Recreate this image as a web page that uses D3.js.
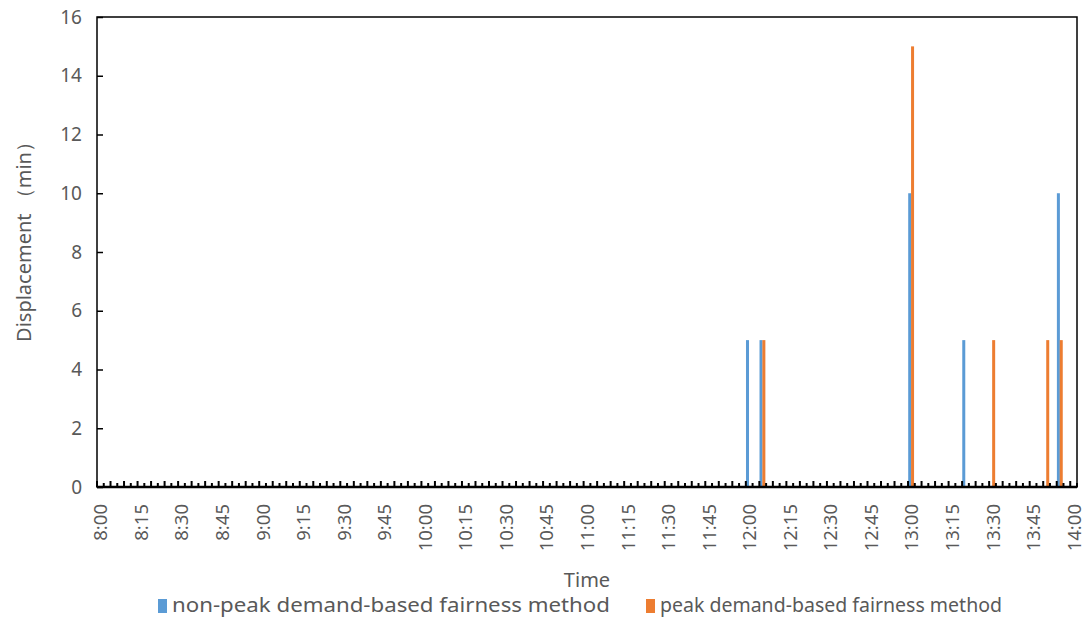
<!DOCTYPE html>
<html>
<head>
<meta charset="utf-8">
<title>Displacement</title>
<script src="https://d3js.org/d3.v7.min.js"></script>
<style>
  body { margin: 0; background: #fff; }
  text { font-family: "Noto Sans", sans-serif; fill: #595959; }
</style>
</head>
<body>
<svg id="chart" width="1087" height="628"></svg>
<script>
// time slots every 2.5 minutes from 8:00 to 14:00 (minutes after midnight)
var slots = d3.range(480, 840.01, 2.5);
var labelTimes = d3.range(480, 840.01, 15);

// non-zero displacements, everything else is 0
var nonPeakTimes = [720, 725, 780, 800, 835];
var nonPeakValues = [5, 5, 10, 5, 10];
var peakTimes = [725, 780, 810, 830, 835];
var peakValues = [5, 15, 5, 5, 5];

var seriesNames = ["non-peak demand-based fairness method", "peak demand-based fairness method"];
var colors = ["#5B9BD5", "#ED7D31"];
var yTicks = [0, 2, 4, 6, 8, 10, 12, 14, 16];

var margin = {top: 17, right: 10, bottom: 141, left: 97},
    width = 1077 - margin.left,
    height = 487 - margin.top;

var svg = d3.select("#chart");
var g = svg.append("g").attr("transform", "translate(" + margin.left + "," + margin.top + ")");

var x = d3.scaleBand().domain(slots).range([0, width]);
var x1 = d3.scaleBand().domain([0, 1]).range([-2, 4]).padding(0.1);
var y = d3.scaleLinear().domain([0, 16]).range([height, 0]);

function fmt(m) {
  return Math.floor(m / 60) + ":" + d3.format("02")(m % 60);
}

// bars
var series = [
  nonPeakTimes.map(function(t, i) { return {t: t, v: nonPeakValues[i], s: 0}; }),
  peakTimes.map(function(t, i) { return {t: t, v: peakValues[i], s: 1}; })
];
series.forEach(function(data, s) {
  g.selectAll(".bar" + s)
    .data(data)
    .enter().append("rect")
      .attr("x", function(d) { return x(d.t) + x.bandwidth() / 2 + x1(d.s) - 1.5; })
      .attr("width", 3)
      .attr("y", function(d) { return y(d.v); })
      .attr("height", function(d) { return height - y(d.v); })
      .attr("fill", colors[s]);
});

// frame
g.append("rect")
  .attr("width", width).attr("height", height)
  .attr("fill", "none").attr("stroke", "#000").attr("stroke-width", 1.5);

// x ticks at slot boundaries, pointing up
var xt = d3.range(0, slots.length + 1).map(function(i) { return i * x.step(); });
g.selectAll(".xt").data(xt).enter().append("line")
  .attr("x1", function(d) { return d; }).attr("x2", function(d) { return d; })
  .attr("y1", height).attr("y2", function(d, i) { return height - (i % 2 ? 4 : 6); })
  .attr("stroke", "#000").attr("stroke-width", 2);
g.append("line").attr("x1", 0).attr("x2", width).attr("y1", height).attr("y2", height)
  .attr("stroke", "#000").attr("stroke-width", 2.5);

// x labels
g.selectAll(".xl").data(labelTimes).enter().append("text")
  .attr("transform", function(d) {
    return "translate(" + (x(d) + x.bandwidth() / 2 + 7) + "," + (height + 17) + ") rotate(-90)";
  })
  .attr("text-anchor", "end")
  .style("font-size", "18.5px")
  .text(fmt);

// y axis
var yAxis = d3.axisLeft(y).tickValues(yTicks).tickSize(-6).tickPadding(15);
var ya = g.append("g").call(yAxis);
ya.select(".domain").remove();
ya.selectAll("line").attr("stroke", "#000").attr("stroke-width", 1.5);
ya.selectAll("text").style("font-size", "19px").style("font-family", "'Noto Sans', sans-serif").attr("fill", "#595959");

// axis titles
svg.append("text")
  .attr("transform", "translate(31,237) rotate(-90)")
  .attr("text-anchor", "middle")
  .style("font-size", "20px")
  .text("Displacement （min）");

svg.append("text")
  .attr("x", 587).attr("y", 587)
  .attr("text-anchor", "middle")
  .style("font-size", "20px")
  .text("Time");

// legend
var legend = svg.append("g").attr("transform", "translate(158,605)");
var lx = [0, 488];
var lw = [438, 342];
seriesNames.forEach(function(name, i) {
  var lg = legend.append("g").attr("transform", "translate(" + lx[i] + ",0)");
  lg.append("rect").attr("x", 0).attr("y", -6).attr("width", 9).attr("height", 14).attr("fill", colors[i]);
  lg.append("text").attr("x", 14).attr("y", 7)
    .attr("textLength", lw[i]).attr("lengthAdjust", "spacingAndGlyphs")
    .style("font-size", "19px").text(name);
});
</script>
</body>
</html>
